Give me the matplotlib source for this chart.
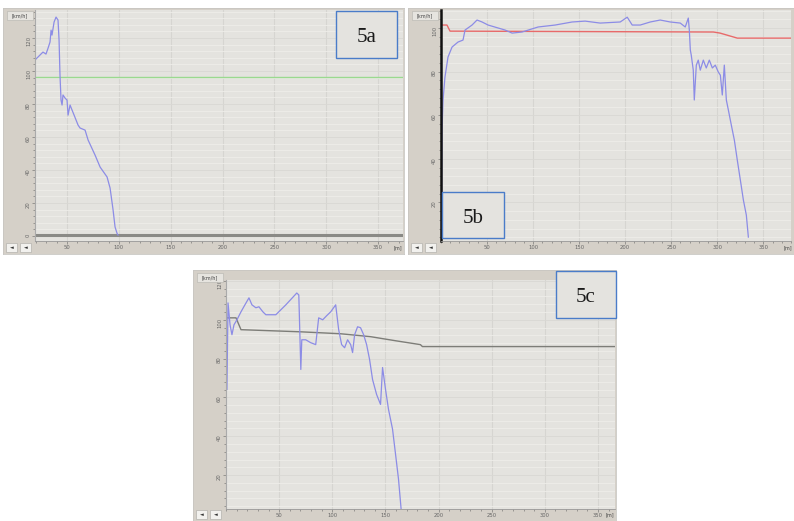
import matplotlib.pyplot as plt
from matplotlib.patches import Rectangle
from matplotlib.ticker import MultipleLocator

W, H = 794, 521

# ---- 5a: speed [km/h] vs distance [m]
a_dist = [19.1, 23.9, 26.8, 29.7, 31.7, 33.6, 34.6, 35.5, 37.5, 39.4, 41.3, 42.3,
          43.2, 44.2, 45.2, 46.1, 48.1, 50.0, 51.0, 52.9, 54.8, 56.8, 58.7, 60.6,
          62.5, 67.4, 70.3, 77.0, 81.9, 88.6, 91.5, 94.4, 96.3, 98.3, 99.2]
a_speed = [106.7, 109.7, 111.5, 110.3, 113.9, 117.6, 124.8, 121.8, 129.7, 132.7, 130.9, 118.8,
           97.6, 82.4, 79.4, 85.5, 83.6, 82.4, 73.3, 79.4, 76.4, 73.3, 70.3, 67.3,
           65.5, 64.2, 58.2, 49.1, 41.8, 35.8, 29.1, 15.8, 5.5, 1.5, 0.6]
a_limit = 96.5

# ---- 5b
b_dist = [0.5, 1.1, 2.2, 4.3, 7.6, 12, 18.5, 23.9, 26.1, 33.7, 39.1, 44.6, 51.1, 69.6,
          77.2, 88, 105.4, 123.9, 142.4, 156.5, 172.8, 194.6, 202.2, 207.6, 216.3, 227.2,
          238, 248.9, 259.8, 265.2, 268.5, 269.6, 270.7, 271.7, 273.9, 275, 277.2, 279.3,
          281.5, 284.8, 288, 291.3, 294.6, 297.8, 301.1, 303.3, 305.4, 307.6, 309.8, 312,
          315.2, 318.5, 321.7, 325, 328.3, 331.5, 333.7]
b_speed = [10, 53.2, 67, 77.5, 86.7, 91.3, 93.6, 94.5, 99.1, 101.4, 103.7, 102.8, 101.4, 99.1,
           97.7, 98.2, 100.5, 101.4, 102.8, 103.2, 102.3, 102.8, 105, 101.4, 101.4, 102.8,
           103.7, 102.8, 102.3, 100.5, 104.6, 99.1, 89.9, 87.6, 80.7, 67, 83, 85.3,
           80.7, 85.3, 81.7, 85.3, 81.7, 83, 79.8, 78.4, 69.3, 83, 67, 62.4,
           55.5, 48.6, 39.4, 30.3, 21.1, 14.2, 4.1]
b_lim_dist = [0, 6.5, 9.8, 295.7, 303, 321.7, 380]
b_lim_speed = [101.4, 101.4, 98.6, 98.2, 97.7, 95.4, 95.4]

# ---- 5c
c_dist = [0.9, 1.9, 3.8, 5.6, 7.5, 10.3, 14.1, 17.8, 21.6, 24.4, 28.1, 31, 34.7, 37.5,
          46.9, 56.3, 66.6, 68.5, 70.4, 71.3, 75, 79.7, 84.4, 87.2, 91, 94.7, 98.5,
          103.2, 106, 108.8, 111.6, 114.4, 117.3, 119.1, 121, 123.8, 126.6, 129.5,
          132.3, 135.1, 137.9, 141.7, 145.4, 147.3, 150.1, 152.9, 156.7, 159.5, 162.3, 165.1]
c_speed = [64.1, 108.7, 97.4, 92.3, 97.4, 100, 104.1, 107.7, 111.3, 107.7, 106.2, 106.7,
           104.1, 102.6, 102.6, 107.7, 113.8, 112.8, 74.4, 89.7, 89.7, 88.2, 87.2, 101,
           100, 102.1, 104.1, 107.7, 94.9, 87.2, 85.6, 89.7, 87.2, 83.1, 92.3, 96.4,
           95.9, 92.3, 87.2, 79.5, 69.2, 61.5, 56.4, 75.4, 64.1, 53.8, 43.6, 30.8, 17.9, 0.3]
c_lim_dist = [0, 9.4, 14.1, 70.4, 107.9, 136, 159.5, 182.9, 184.8, 366]
c_lim_speed = [101, 101, 94.9, 93.8, 92.8, 91.3, 89.2, 87.2, 86.2, 86.2]

x_ticks = [50, 100, 150, 200, 250, 300, 350]

STRIP = '#d5d0c8'
PLOT_BG = '#e4e3df'
BLUE = '#8c8ce6'


def box(x0, y0, x1, y1):
    return [x0 / W, 1 - y1 / H, (x1 - x0) / W, (y1 - y0) / H]


fig = plt.figure(figsize=(W / 100, H / 100), dpi=100)
fig.patch.set_facecolor('white')


def panel(frame, plot, xlim, ylim, yticks, axis_color):
    x0, y0, x1, y1 = frame
    fr = fig.add_axes(box(*frame))
    fr.set_facecolor(STRIP)
    fr.set_xticks([])
    fr.set_yticks([])
    for s in fr.spines.values():
        s.set_color('#c8c6c2')
        s.set_linewidth(0.6)
    # bottom strip
    strip = fig.add_axes(box(plot[0], plot[3], x1, y1))
    strip.set_facecolor('#ebeae7')
    strip.axis('off')
    # buttons
    for bx in (x0 + 3, x0 + 17):
        fig.add_artist(Rectangle((bx / W, 1 - (y1 - 2) / H), 11 / W, 9 / H,
                                 transform=fig.transFigure, facecolor='#f2f1ee',
                                 edgecolor='#b5b3ae', linewidth=0.5))
        fig.text((bx + 5.5) / W, 1 - (y1 - 6.5) / H, '\u25c4', fontsize=3.5,
                 ha='center', va='center', color='#333333')
    # unit label
    fig.add_artist(Rectangle(((x0 + 4) / W, 1 - (y0 + 12) / H), 26 / W, 9 / H,
                             transform=fig.transFigure, facecolor='#e6e4df',
                             edgecolor='#b5b3ae', linewidth=0.4))
    fig.text((x0 + 17) / W, 1 - (y0 + 7.5) / H, '[km/h]', fontsize=3.5,
             ha='center', va='center', color='#444444')
    fig.text((x1 - 6) / W, 1 - (y1 - 6) / H, '[m]', fontsize=3.5,
             ha='center', va='center', color='#444444')

    ax = fig.add_axes(box(*plot))
    ax.set_facecolor(PLOT_BG)
    ax.set_xlim(*xlim)
    ax.set_ylim(*ylim)
    ax.set_xticks(x_ticks)
    ax.set_yticks(yticks)
    ax.xaxis.set_minor_locator(MultipleLocator(10))
    ax.yaxis.set_minor_locator(MultipleLocator(4))
    ax.grid(which='minor', axis='y', color='#eeede9', linewidth=0.6)
    ax.grid(which='major', axis='y', color='#d9d8d4', linewidth=0.6)
    ax.grid(which='major', axis='x', color='#d6d5d1', linewidth=0.8)
    ax.set_axisbelow(True)
    ax.tick_params(which='both', labelsize=3.8, colors='#666666', length=2, width=0.4, pad=0.8)
    ax.tick_params(which='minor', length=1.2)
    ax.tick_params(axis='y', labelrotation=90)
    for s in ('top', 'right'):
        ax.spines[s].set_visible(False)
    ax.spines['left'].set_color(axis_color)
    ax.spines['bottom'].set_color('#999999')
    ax.spines['bottom'].set_linewidth(0.6)
    return ax


def label_box(x0, y0, x1, y1, text):
    fig.add_artist(Rectangle((x0 / W, 1 - y1 / H), (x1 - x0) / W, (y1 - y0) / H,
                             transform=fig.transFigure, facecolor=PLOT_BG,
                             edgecolor='#4a7cc9', linewidth=1.0))
    fig.text((x0 + x1) / 2 / W, 1 - ((y0 + y1) / 2 + 3) / H, text, fontsize=15,
             family='Liberation Serif', ha='center', va='center', color='#1a1a1a')


# 5a
ax_a = panel((3, 8, 404, 254), (35, 10, 403, 241), (19.1, 374), (-3, 137),
             [0, 20, 40, 60, 80, 100, 120], '#aaaaaa')
ax_a.axhline(a_limit, color='#9ad98f', linewidth=1.0)
ax_a.axhline(0.5, color='#8a8a86', linewidth=2.2)
ax_a.plot(a_dist, a_speed, color=BLUE, linewidth=0.9)
label_box(336, 11, 397, 58, '5a')

# 5b
ax_b = panel((408, 8, 794, 254), (441, 10, 791, 241), (0, 380), (2.3, 108.3),
             [20, 40, 60, 80, 100], '#111111')
ax_b.spines['left'].set_linewidth(1.8)
ax_b.plot(b_lim_dist, b_lim_speed, color='#e86a6a', linewidth=1.0)
ax_b.plot(b_dist, b_speed, color=BLUE, linewidth=0.9)
label_box(442, 192, 504, 238, '5b')

# 5c
ax_c = panel((193, 270, 616, 521), (226, 280, 615, 509), (0, 366), (2.5, 120.5),
             [20, 40, 60, 80, 100, 120], '#aaaaaa')
ax_c.plot(c_lim_dist, c_lim_speed, color='#7d7d78', linewidth=1.0)
ax_c.plot(c_dist, c_speed, color=BLUE, linewidth=0.9)
label_box(556, 271, 616, 318, '5c')

fig.savefig('out.png', dpi=100)
